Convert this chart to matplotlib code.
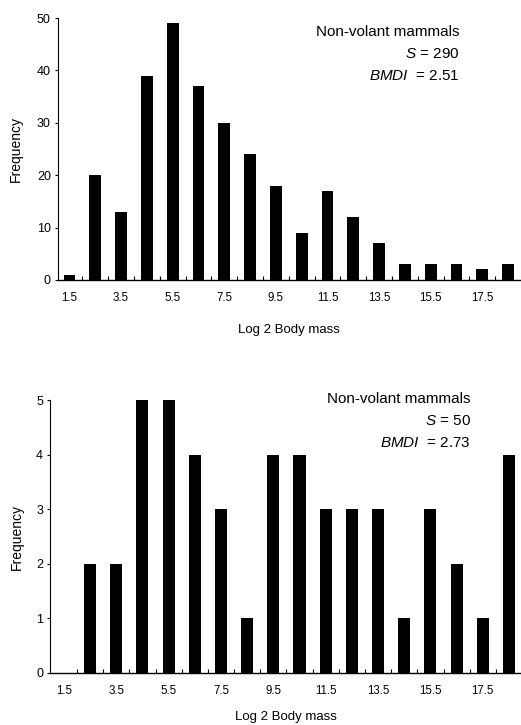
import matplotlib
matplotlib.use("Agg")
import matplotlib.pyplot as plt
import numpy as np

plt.rcParams['font.family'] = ['Liberation Sans', 'DejaVu Sans']
plt.rcParams['mathtext.fontset'] = 'custom'
plt.rcParams['mathtext.rm'] = 'Liberation Sans'
plt.rcParams['mathtext.it'] = 'Liberation Sans:italic'

# bin centres (log2 body mass)
bins = [1.5, 2.5, 3.5, 4.5, 5.5, 6.5, 7.5, 8.5, 9.5, 10.5,
        11.5, 12.5, 13.5, 14.5, 15.5, 16.5, 17.5, 18.5]
tick_labels = ["1.5", "3.5", "5.5", "7.5", "9.5", "11.5", "13.5", "15.5", "17.5"]

freq_top = [1, 20, 13, 39, 49, 37, 30, 24, 18, 9, 17, 12, 7, 3, 3, 3, 2, 3]
freq_bottom = [0, 2, 2, 5, 5, 4, 3, 1, 4, 4, 3, 3, 3, 1, 3, 2, 1, 4]

fig = plt.figure(figsize=(5.21, 7.25), dpi=100)
ax1 = fig.add_axes([0.111, 0.614, 0.889, 0.361])
ax2 = fig.add_axes([0.096, 0.072, 0.904, 0.376])


def style(ax, vals, ymax, yticks, xlim, s_txt, bmdi_txt, txt_x, txt_y):
    ax.bar(bins, vals, width=0.46, color='black')
    ax.set_xlim(*xlim)
    ax.set_ylim(0, ymax)
    ax.set_yticks(yticks)
    ax.tick_params(axis='y', labelsize=9, length=2, width=0.8, pad=3)
    # labels at half values, small tick marks at integers
    ax.set_xticks(np.arange(1.5, 18, 2))
    ax.set_xticklabels(tick_labels, fontsize=8.3)
    ax.tick_params(axis='x', length=0, pad=9)
    ax.set_xticks(np.arange(2, 19, 1), minor=True)
    ax.tick_params(axis='x', which='minor', direction='in', length=3, width=0.8)
    for sp in ['top', 'right']:
        ax.spines[sp].set_visible(False)
    ax.spines['left'].set_linewidth(0.8)
    ax.spines['bottom'].set_linewidth(1.0)
    ax.set_ylabel("Frequency", fontsize=10)
    ax.set_xlabel("Log 2 Body mass", fontsize=9.5)
    for i, t in enumerate(["Non-volant mammals", s_txt, bmdi_txt]):
        ax.text(txt_x, txt_y[i], t, transform=ax.transAxes,
                ha='right', va='center', fontsize=11)


style(ax1, freq_top, 50, [0, 10, 20, 30, 40, 50], (1.05, 19.0),
      r"$\it{S}$ = 290", r"$\it{BMDI}$  = 2.51", 0.868, [0.947, 0.863, 0.779])
style(ax2, freq_bottom, 5, [0, 1, 2, 3, 4, 5], (0.97, 18.96),
      r"$\it{S}$ = 50", r"$\it{BMDI}$  = 2.73", 0.893, [1.004, 0.923, 0.842])
ax1.xaxis.set_label_coords(0.5, -0.17)
ax2.xaxis.set_label_coords(0.5, -0.14)
ax1.yaxis.set_label_coords(-0.075, 0.5)
ax2.yaxis.set_label_coords(-0.055, 0.5)

fig.savefig("out.png", dpi=100)
